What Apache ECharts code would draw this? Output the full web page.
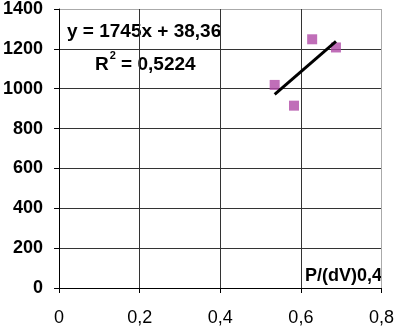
<!DOCTYPE html>
<html>
<head>
<meta charset="utf-8">
<script src="https://cdn.jsdelivr.net/npm/echarts@6/dist/echarts.min.js"></script>
<style>
html,body{margin:0;padding:0;background:#fff;}
#chart{width:397px;height:327px;}
</style>
</head>
<body>
<div id="chart"></div>
<script>
// Data
const xValues = [0.535, 0.583, 0.628, 0.687];
const yValues = [1019, 915, 1248, 1207];
const trendSlope = 1745;
const trendIntercept = 38.36;
const equationText = 'y = 1745x + 38,36';
const r2Value = '0,5224';
const xAxisName = 'P/(dV)0,4';
const xTicks = [0, 0.2, 0.4, 0.6, 0.8];
const yTicks = [0, 200, 400, 600, 800, 1000, 1200, 1400];

const points = xValues.map((x, i) => [x, yValues[i]]);
const xMin = Math.min(...xValues), xMax = Math.max(...xValues);
const trend = [[xMin, trendSlope * xMin + trendIntercept], [xMax, trendSlope * xMax + trendIntercept]];

const fmtX = v => String(Math.round(v * 10) / 10).replace('.', ',');
const fmtY = v => String(Math.round(v));
const font = 'Liberation Sans, Arial, sans-serif';

const chart = echarts.init(document.getElementById('chart'), null, {renderer: 'canvas'});
chart.setOption({
  animation: false,
  backgroundColor: '#fff',
  grid: {left: 56, right: 13, top: 5, bottom: 38, containLabel: false},
  xAxis: {
    type: 'value',
    min: xTicks[0], max: xTicks[xTicks.length - 1], interval: 0.2,
    axisLine: {show: true, onZero: false, lineStyle: {color: '#000', width: 1}},
    axisTick: {show: true, inside: false, length: 5, lineStyle: {color: '#000'}},
    splitLine: {show: true, lineStyle: {color: ['#333', '#333', '#333', '#333', '#aaa'], width: 1}},
    axisLabel: {formatter: fmtX, fontFamily: font, fontSize: 18, color: '#000', margin: 21,
      showMinLabel: true, showMaxLabel: true}
  },
  yAxis: {
    type: 'value',
    min: yTicks[0], max: yTicks[yTicks.length - 1], interval: 200,
    axisLine: {show: true, onZero: false, lineStyle: {color: '#000', width: 1}},
    axisTick: {show: true, inside: false, length: 5, lineStyle: {color: '#000'}},
    splitLine: {show: true, lineStyle: {color: ['#333', '#333', '#333', '#333', '#333', '#333', '#333', '#aaa'], width: 1}},
    axisLabel: {formatter: fmtY, fontFamily: font, fontSize: 18, fontWeight: 'bold', color: '#000', margin: 16}
  },
  graphic: [
    {type: 'text', left: 67, top: 22, style: {text: equationText, font: 'bold 19px ' + font, fill: '#000'}},
    {type: 'text', left: 95, top: 50, style: {
      text: '{n|R}{s|2}{n| = ' + r2Value + '}',
      rich: {
        n: {fontFamily: font, fontSize: 19, fontWeight: 'bold', color: '#000', verticalAlign: 'bottom', lineHeight: 24},
        s: {fontFamily: font, fontSize: 11, fontWeight: 'bold', color: '#000', verticalAlign: 'top', lineHeight: 24, padding: [0, 0, 12, 1]}
      }
    }},
    {type: 'text', right: 15, top: 267, style: {text: xAxisName, font: 'bold 18px ' + font, fill: '#000'}}
  ],
  series: [
    {type: 'scatter', data: points, symbol: 'rect', symbolSize: 10,
      itemStyle: {color: '#B04AA6'}, z: 3},
    {type: 'line', data: trend, symbol: 'none', lineStyle: {color: '#000', width: 3}, z: 4}
  ]
});
</script>
</body>
</html>
